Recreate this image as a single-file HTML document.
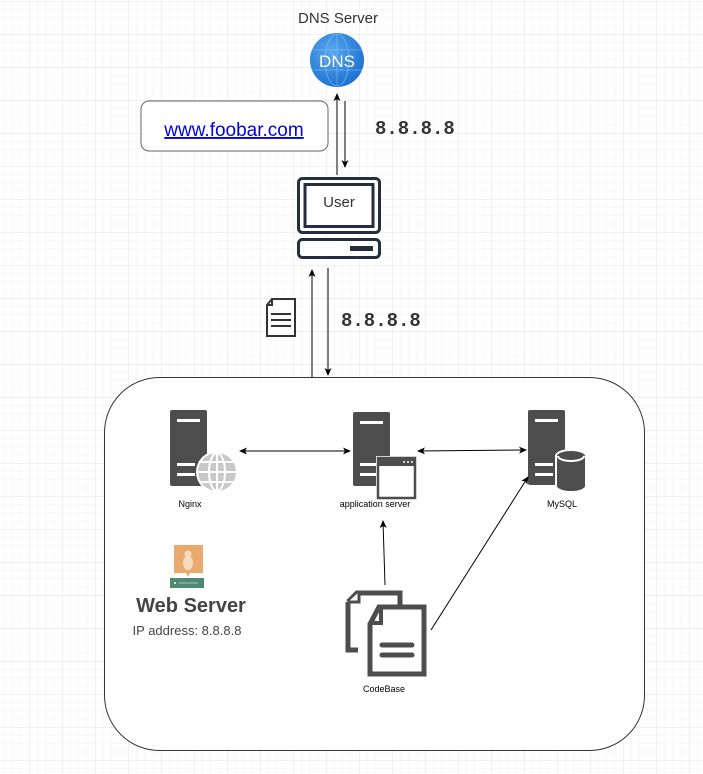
<!DOCTYPE html>
<html><head><meta charset="utf-8"><style>
html,body{margin:0;padding:0;background:#fff;}
svg{display:block;font-family:"Liberation Sans",sans-serif;}
</style></head><body>
<svg width="703" height="774" viewBox="0 0 703 774" xmlns="http://www.w3.org/2000/svg">
<defs>
<pattern id="minor" x="29" y="1" width="8.25" height="8.25" patternUnits="userSpaceOnUse">
<path d="M0 0H8.25M0 0V8.25" stroke="#f0f0f0" stroke-width="1" fill="none"/>
</pattern>
<pattern id="major" x="29" y="1" width="33" height="33" patternUnits="userSpaceOnUse">
<path d="M0 0H33M0 0V33" stroke="#e0e0e0" stroke-width="1" fill="none"/>
</pattern>
<marker id="ah" markerWidth="8" markerHeight="8" refX="7" refY="4" orient="auto" markerUnits="userSpaceOnUse">
<path d="M0,0.5 L8,4 L0,7.5 L2,4 Z" fill="#000"/>
</marker>
<marker id="as" markerWidth="8" markerHeight="8" refX="1" refY="4" orient="auto" markerUnits="userSpaceOnUse">
<path d="M8,0.5 L0,4 L8,7.5 L6,4 Z" fill="#000"/>
</marker>
<radialGradient id="dnsg" cx="0.4" cy="0.35" r="0.7">
<stop offset="0" stop-color="#5aa8ee"/><stop offset="1" stop-color="#1a6fd0"/>
</radialGradient>
</defs>
<rect width="703" height="774" fill="url(#minor)"/>
<rect width="703" height="774" fill="url(#major)"/>

<!-- DNS -->
<text x="338" y="23" font-size="15" fill="#333" text-anchor="middle">DNS Server</text>
<circle cx="337" cy="60" r="27" fill="url(#dnsg)"/>
<g stroke="#8cc4f5" stroke-width="0.8" fill="none" opacity="0.7">
<ellipse cx="337" cy="60" rx="12" ry="26"/><path d="M312 50H362M312 70H362M337 34V86"/>
</g>
<text x="337" y="67" font-size="17" fill="#fff" text-anchor="middle">DNS</text>

<!-- url box -->
<rect x="141" y="101" width="187" height="50" rx="8" fill="#fff" stroke="#666" stroke-width="1"/>
<text x="234" y="136" font-size="19" fill="#0000ee" text-anchor="middle" text-decoration="underline">www.foobar.com</text>

<!-- DNS arrows -->
<line x1="337" y1="175" x2="337" y2="94" stroke="#000" marker-end="url(#ah)"/>
<line x1="345" y1="101" x2="345" y2="167" stroke="#000" marker-end="url(#ah)"/>
<text x="375" y="134" font-family="Liberation Mono,monospace" font-size="19" font-weight="bold" fill="#333">8.8.8.8</text>

<!-- User computer -->
<rect x="298.5" y="178.5" width="81" height="54" rx="4" fill="#fff" stroke="#232f3e" stroke-width="3"/>
<rect x="305" y="184.5" width="68" height="42" fill="#fff" stroke="#232f3e" stroke-width="3"/>
<text x="339" y="207" font-size="15" fill="#333" text-anchor="middle">User</text>
<rect x="298.5" y="239.5" width="81" height="18" rx="4" fill="#fff" stroke="#232f3e" stroke-width="3"/>
<rect x="350" y="246" width="23" height="5" fill="#232f3e"/>

<!-- user-web arrows -->
<line x1="312" y1="377" x2="312" y2="270" stroke="#000" marker-end="url(#ah)"/>
<line x1="328" y1="268" x2="328" y2="375" stroke="#000" marker-end="url(#ah)"/>
<text x="341" y="326" font-family="Liberation Mono,monospace" font-size="19" font-weight="bold" fill="#333">8.8.8.8</text>
<path d="M272 299H295V336H267V305Z" fill="#fff" stroke="#333" stroke-width="2"/>
<path d="M267 305H272V299" fill="none" stroke="#333" stroke-width="2"/>
<path d="M271 314H291M271 320H291M271 326H291" stroke="#333" stroke-width="2"/>

<!-- big box -->
<rect x="104.5" y="377.5" width="540" height="373" rx="55" fill="#fff" stroke="#333" stroke-width="1"/>

<!-- Nginx -->
<rect x="170" y="410" width="37" height="76" rx="2" fill="#4d4d4d"/>
<rect x="177" y="419" width="23" height="3" fill="#fff"/>
<rect x="177" y="463" width="18" height="3" fill="#fff"/><rect x="177" y="473" width="18" height="3" fill="#fff"/>
<circle cx="217" cy="472" r="21" fill="#fff"/>
<circle cx="217" cy="472" r="19" fill="#c8c8c8"/>
<g stroke="#fff" stroke-width="2" fill="none"><ellipse cx="217" cy="472" rx="8" ry="19"/><path d="M198 472H236M217 453V491M201 462H233M201 482H233"/></g>
<text x="190" y="507" font-size="9" fill="#000" text-anchor="middle">Nginx</text>

<!-- app server -->
<rect x="353" y="412" width="37" height="74" rx="2" fill="#4d4d4d"/>
<rect x="360" y="421" width="23" height="3" fill="#fff"/>
<rect x="360" y="463" width="18" height="3" fill="#fff"/><rect x="360" y="473" width="18" height="3" fill="#fff"/>
<rect x="376" y="456" width="41" height="44" fill="#fff"/>
<rect x="378" y="458" width="37" height="40" fill="#fff" stroke="#4d4d4d" stroke-width="2.5"/>
<rect x="378" y="458" width="37" height="8" fill="#4d4d4d"/>
<circle cx="404" cy="462" r="1" fill="#fff"/><circle cx="408" cy="462" r="1" fill="#fff"/><circle cx="412" cy="462" r="1" fill="#fff"/>
<text x="375" y="507" font-size="9" fill="#000" text-anchor="middle">application server</text>

<!-- MySQL -->
<rect x="528" y="410" width="37" height="75" rx="2" fill="#4d4d4d"/>
<rect x="535" y="419" width="23" height="3" fill="#fff"/>
<rect x="535" y="463" width="18" height="3" fill="#fff"/><rect x="535" y="473" width="18" height="3" fill="#fff"/>
<path d="M556 456 a15 6 0 0 1 30 0 V486 a15 6 0 0 1 -30 0Z" fill="#4d4d4d" stroke="#fff" stroke-width="2"/>
<path d="M558 456 a13 5 0 0 0 26 0" fill="none" stroke="#fff" stroke-width="2"/>
<text x="562" y="507" font-size="9" fill="#000" text-anchor="middle">MySQL</text>

<!-- arrows between servers -->
<line x1="240" y1="451" x2="350" y2="451" stroke="#000" marker-start="url(#as)" marker-end="url(#ah)"/>
<line x1="418" y1="451" x2="526" y2="450" stroke="#000" marker-start="url(#as)" marker-end="url(#ah)"/>
<line x1="385" y1="585" x2="383" y2="521" stroke="#000" marker-end="url(#ah)"/>
<line x1="431" y1="630" x2="528" y2="477" stroke="#000" marker-end="url(#ah)"/>

<!-- CodeBase docs -->
<path d="M348 602 L357 593 H400 V605" fill="none" stroke="#4d4d4d" stroke-width="5"/>
<path d="M348 602 V650 H358" fill="none" stroke="#4d4d4d" stroke-width="5"/>
<path d="M359 592 V602 H348" fill="#fff" stroke="#4d4d4d" stroke-width="3"/>
<path d="M370 624 L379 607 H424 V674 H370 Z" fill="#fff" stroke="#4d4d4d" stroke-width="5"/>
<path d="M381 607 V623 H370" fill="none" stroke="#4d4d4d" stroke-width="4"/>
<path d="M382 645H412M382 655H412" stroke="#4d4d4d" stroke-width="5" stroke-linecap="round"/>
<text x="384" y="692" font-size="9" fill="#000" text-anchor="middle">CodeBase</text>

<!-- Linux icon -->
<rect x="174" y="545" width="29" height="28" fill="#e9a96f"/>
<ellipse cx="188" cy="563" rx="5" ry="7" fill="#f7dcc0"/>
<circle cx="188" cy="554" r="3.5" fill="#f7dcc0"/>
<path d="M186 573 L188 577 L190 573Z" fill="#e9a96f"/>
<rect x="170" y="578" width="34" height="10" fill="#4e8a72"/>
<circle cx="175" cy="583" r="1" fill="#fff"/><line x1="179" y1="583" x2="198" y2="583" stroke="#fff" stroke-width="0.6"/>
<text x="191" y="612" font-size="20" font-weight="bold" fill="#444" text-anchor="middle">Web Server</text>
<text x="187" y="635" font-size="13" fill="#444" text-anchor="middle">IP address: 8.8.8.8</text>
</svg>
</body></html>
